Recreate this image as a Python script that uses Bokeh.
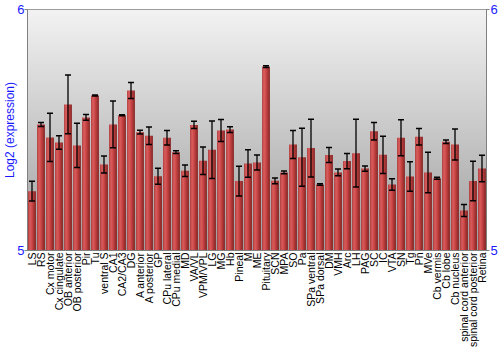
import numpy as np
from bokeh.plotting import figure
from bokeh.models import (ColumnDataSource, FactorRange, Range1d, LinearAxis,
                          FixedTicker, Whisker, TeeHead)
from bokeh.transform import dodge
from bokeh.embed import file_html
from bokeh.resources import INLINE

categories = ["LS", "RS", "Cx motor", "Cx cingulate", "OB anterior", "OB posterior",
              "Pir", "Tu", "ventral S", "CA1", "CA2/CA3", "DG", "A anterior",
              "A posterior", "GP", "CPu lateral", "CPu medial", "MD", "VA/VL",
              "VPM/VPL", "LG", "MG", "Hb", "Pineal", "M", "ME", "Pituitary", "SCN",
              "MPA", "SO", "Pa", "SPa ventral", "SPa dorsal", "DM", "VMH", "Arc",
              "LH", "PAG", "SC", "IC", "VTA", "SN", "Tg", "Pn", "MVe", "Cb vermis",
              "Cb lobe", "Cb nucleus", "spinal cord anterior",
              "spinal cord posterior", "Retina"]

values = [5.246, 5.523, 5.469, 5.448, 5.606, 5.436, 5.552, 5.643, 5.357, 5.523,
          5.561, 5.664, 5.491, 5.476, 5.308, 5.468, 5.408, 5.331, 5.521, 5.372,
          5.418, 5.498, 5.502, 5.288, 5.361, 5.365, 5.763, 5.289, 5.324, 5.440,
          5.387, 5.425, 5.274, 5.396, 5.324, 5.371, 5.404, 5.340, 5.495, 5.397,
          5.274, 5.468, 5.307, 5.472, 5.324, 5.300, 5.451, 5.440, 5.166, 5.288,
          5.340]

errors = [0.041, 0.008, 0.100, 0.028, 0.122, 0.092, 0.012, 0.002, 0.035, 0.097,
          0.002, 0.033, 0.008, 0.036, 0.033, 0.030, 0.006, 0.024, 0.015, 0.057,
          0.119, 0.046, 0.012, 0.062, 0.057, 0.031, 0.004, 0.012, 0.006, 0.058,
          0.120, 0.120, 0.003, 0.031, 0.014, 0.032, 0.141, 0.011, 0.036, 0.077,
          0.024, 0.075, 0.061, 0.034, 0.084, 0.004, 0.007, 0.064, 0.025, 0.082,
          0.055]

y_ticks = [5, 6]
y_min, y_max = 5, 6

vals = np.array(values)
errs = np.array(errors)
src = ColumnDataSource(dict(cat=categories, top=vals,
                            upper=vals + errs, lower=vals - errs))

p = figure(width=500, height=350, x_range=FactorRange(*categories, range_padding=0),
           y_range=Range1d(y_min, y_max), output_backend="svg",
           toolbar_location=None, min_border_left=0, min_border_right=0,
           min_border_top=9, min_border_bottom=0)
p.background_fill_color = "white"
p.border_fill_color = "white"
p.outline_line_color = "#808080"
p.outline_line_width = 1
p.xgrid.visible = False
p.ygrid.visible = False

# gradient background of the plot area
n = 256
t = np.linspace(0, 1, n)  # 0 bottom -> 1 top
g = (158 + (243 - 158) * t).astype(np.uint32)
img = np.empty((n, 1), dtype=np.uint32)
view = img.view(dtype=np.uint8).reshape((n, 1, 4))
view[:, :, 0] = g[:, None]
view[:, :, 1] = g[:, None]
view[:, :, 2] = g[:, None]
view[:, :, 3] = 255
p.image_rgba(image=[img], x=0, y=y_min, dw=len(categories), dh=y_max - y_min)

# bars with horizontal shading made of stripes
stripe_colors = ["#b83838", "#d04e4e", "#d85656", "#d04e4e", "#c44444",
                 "#b43636", "#a02a2a", "#8a1e1e"]
sw = 0.85 / len(stripe_colors)
for i, c in enumerate(stripe_colors):
    off = -0.425 + sw * (i + 0.5)
    p.vbar(x=dodge("cat", off, range=p.x_range), top="top", bottom=y_min,
           width=sw + 0.01, source=src, fill_color=c, line_color=None)

# error bars
w = Whisker(source=src, base="cat", upper="upper", lower="lower", level="overlay",
            line_color="black", line_width=1.3,
            upper_head=TeeHead(size=6, line_color="black", line_width=1.5),
            lower_head=TeeHead(size=6, line_color="black", line_width=1.5))
p.add_layout(w)

blue = "#1a1aff"
p.yaxis.ticker = FixedTicker(ticks=y_ticks)
p.yaxis.axis_label = "Log2 (expression)"
p.yaxis.axis_label_text_color = blue
p.yaxis.axis_label_text_font = "Liberation Sans"
p.yaxis.axis_label_text_font_size = "12px"
p.yaxis.axis_label_text_font_style = "normal"
p.yaxis.axis_label_standoff = -3
p.yaxis.major_label_text_color = blue
p.yaxis.major_label_text_font = "Liberation Sans"
p.yaxis.major_label_text_font_size = "13px"
p.yaxis.major_label_standoff = 0
p.yaxis.minor_tick_line_color = None
p.yaxis.major_tick_in = 0
p.yaxis.major_tick_out = 3
p.yaxis.axis_line_color = "#808080"
p.yaxis.major_tick_line_color = "#808080"

ry = LinearAxis(ticker=FixedTicker(ticks=y_ticks))
ry.major_label_text_color = blue
ry.major_label_text_font = "Liberation Sans"
ry.major_label_text_font_size = "13px"
ry.major_label_standoff = 1
ry.minor_tick_line_color = None
ry.major_tick_in = 0
ry.major_tick_out = 3
ry.axis_line_color = "#808080"
ry.major_tick_line_color = "#808080"
p.add_layout(ry, "right")

p.xaxis.major_label_orientation = np.pi / 2
p.xaxis.major_label_text_font = "Liberation Sans"
p.xaxis.major_label_text_font_size = "10.5px"
p.xaxis.major_label_text_color = "black"
p.xaxis.major_label_standoff = 2
p.xaxis.major_tick_line_color = None
p.xaxis.major_tick_out = 0
p.xaxis.axis_line_color = "#808080"

open("out.html", "w").write(file_html(p, INLINE))
